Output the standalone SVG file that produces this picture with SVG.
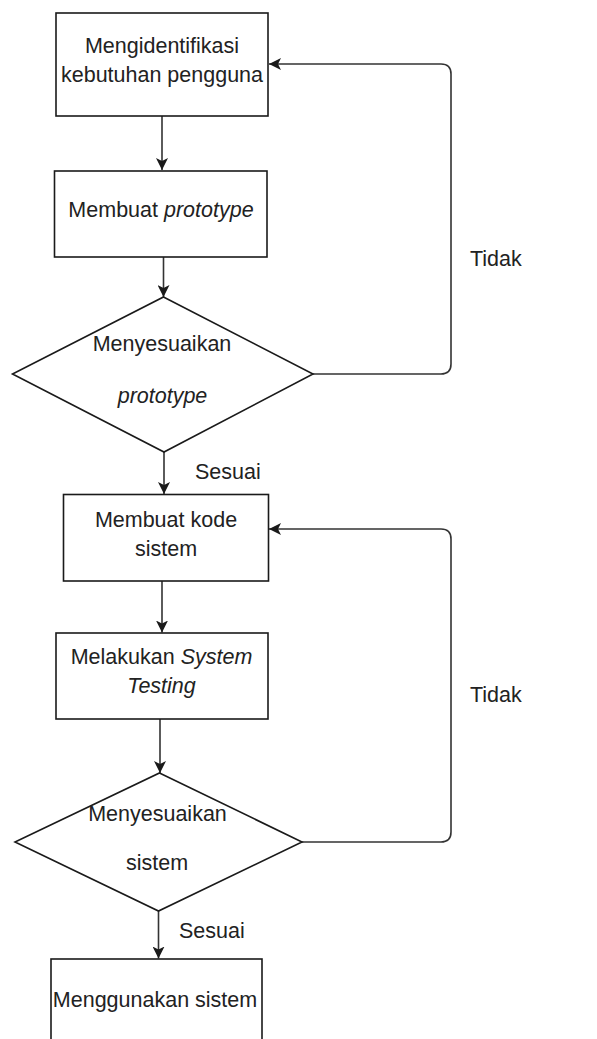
<svg xmlns="http://www.w3.org/2000/svg" width="597" height="1039" viewBox="0 0 597 1039">
<style>
.n{fill:#fff;stroke:#1a1a1a;stroke-width:1.6}
.c{fill:none;stroke:#333;stroke-width:1.6}
text{font-family:"Liberation Sans",Arial,sans-serif;font-size:21.5px;fill:#222}
.m{text-anchor:middle}
.i{font-style:italic}
</style>
<defs>
<marker id="ah" viewBox="0 0 12 12" refX="12" refY="6" markerWidth="12" markerHeight="12" markerUnits="userSpaceOnUse" orient="auto">
<path d="M0,0 L12,6 L0,12 L3,6 z" fill="#1a1a1a"/>
</marker>
</defs>
<rect width="597" height="1039" fill="#fff"/>
<g id="connectors">
<path class="c" d="M162,116 V170" marker-end="url(#ah)"/>
<path class="c" d="M163.5,257 V297" marker-end="url(#ah)"/>
<path class="c" d="M313,374 H441 Q451,374 451,364 V74 Q451,64 441,64 H269" marker-end="url(#ah)"/>
<path class="c" d="M164,452 V494" marker-end="url(#ah)"/>
<path class="c" d="M302,842 H441 Q451,842 451,832 V539 Q451,529 441,529 H269" marker-end="url(#ah)"/>
<path class="c" d="M162,581 V632.5" marker-end="url(#ah)"/>
<path class="c" d="M160,719 V773" marker-end="url(#ah)"/>
<path class="c" d="M158.5,911 V958.5" marker-end="url(#ah)"/>
<text x="470" y="266">Tidak</text>
<text x="195" y="479">Sesuai</text>
<text x="470" y="702">Tidak</text>
<text x="179" y="938">Sesuai</text>
</g>
<g id="node1">
<rect class="n" x="56" y="13" width="212" height="103"/>
<text class="m" x="162" y="53">Mengidentifikasi</text>
<text class="m" x="162" y="82">kebutuhan pengguna</text>
</g>
<g id="node2">
<rect class="n" x="54.5" y="171" width="212.5" height="86"/>
<text class="m" x="161" y="217">Membuat <tspan class="i">prototype</tspan></text>
</g>
<g id="node3">
<polygon class="n" points="163.5,297 313,374 164,452 12.5,374"/>
<text class="m" x="162" y="351">Menyesuaikan</text>
<text class="m i" x="162.5" y="403">prototype</text>
</g>
<g id="node4">
<rect class="n" x="63.5" y="494.5" width="205" height="86.5"/>
<text class="m" x="166" y="527">Membuat kode</text>
<text class="m" x="166" y="556">sistem</text>
</g>
<g id="node5">
<rect class="n" x="56" y="633" width="212" height="86"/>
<text class="m" x="161.5" y="664">Melakukan <tspan class="i">System</tspan></text>
<text class="m i" x="161.5" y="693">Testing</text>
</g>
<g id="node6">
<polygon class="n" points="159.5,773 302,842 158.5,911 15,842"/>
<text class="m" x="157.5" y="821">Menyesuaikan</text>
<text class="m" x="157" y="870">sistem</text>
</g>
<g id="node7">
<rect class="n" x="51" y="959" width="211" height="100"/>
<text class="m" x="155" y="1007">Menggunakan sistem</text>
</g>
</svg>
